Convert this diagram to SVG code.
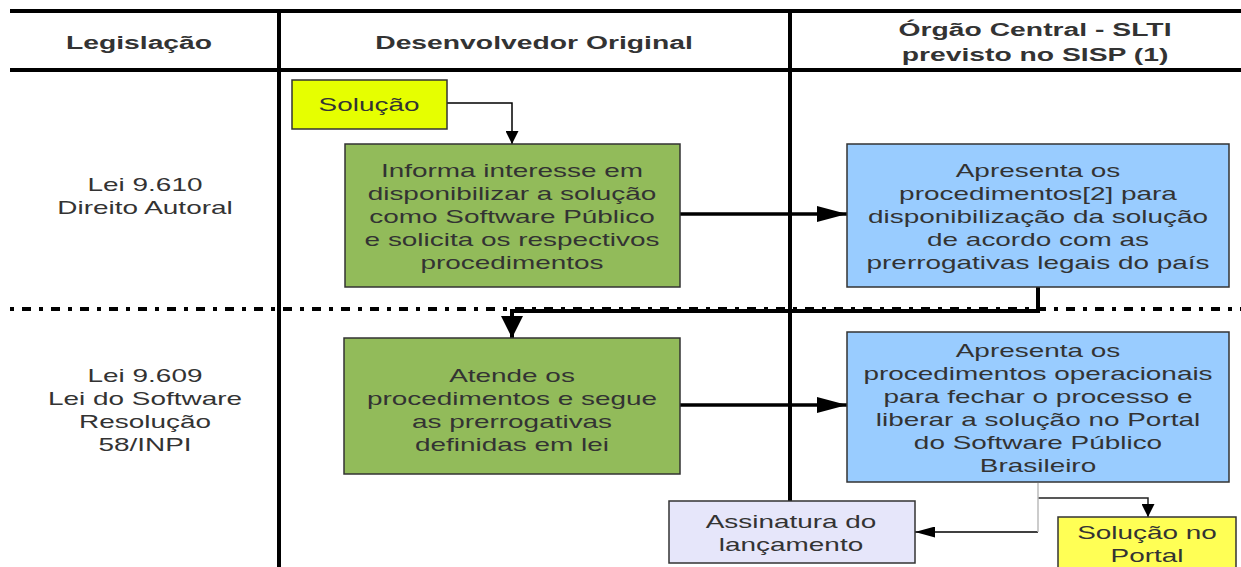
<svg xmlns="http://www.w3.org/2000/svg" width="1241" height="567" viewBox="0 0 1241 567">
<defs>
<style>
text{font-family:"Liberation Sans",Arial,sans-serif;fill:#333;text-anchor:middle}
.h{font-size:19px;font-weight:bold}
.t{font-size:19px}
.grid{stroke:#000;stroke-width:4;fill:none}
.box{stroke:#333;stroke-width:1.5}
.green{fill:#92bb5a}
.blue{fill:#99ccff}
</style>
<marker id="ah" viewBox="0 0 13 13" refX="13" refY="6.5" markerWidth="13" markerHeight="13" markerUnits="userSpaceOnUse" orient="auto"><path d="M0,0 L13,6.5 L0,13 z" fill="#000"/></marker>
<marker id="ahl" viewBox="0 0 20 11" refX="20" refY="5.5" markerWidth="20" markerHeight="11" markerUnits="userSpaceOnUse" orient="auto"><path d="M0,0 L20,5.5 L0,11 z" fill="#000"/></marker>
<marker id="ahb" viewBox="0 0 30 16" refX="30" refY="8" markerWidth="30" markerHeight="16" markerUnits="userSpaceOnUse" orient="auto"><path d="M0,0 L30,8 L0,16 z" fill="#000"/></marker>
<marker id="ahv" viewBox="0 0 22 22" refX="22" refY="11" markerWidth="22" markerHeight="22" markerUnits="userSpaceOnUse" orient="auto"><path d="M0,0 L22,11 L0,22 z" fill="#000"/></marker>
</defs>
<g id="grid">
<line class="grid" x1="10" y1="11" x2="1241" y2="11"/>
<line class="grid" x1="10" y1="70" x2="1241" y2="70"/>
<line class="grid" x1="279" y1="11" x2="279" y2="567"/>
<line class="grid" x1="790" y1="11" x2="790" y2="501"/>
<line x1="10" y1="309" x2="1241" y2="309" stroke="#000" stroke-width="4" stroke-dasharray="4 8 9 8"/>
</g>
<g id="headers">
<g transform="translate(139 0) scale(1.49 1)"><text class="h" x="0" y="49">Legislação</text></g>
<g transform="translate(534 0) scale(1.49 1)"><text class="h" x="0" y="49">Desenvolvedor Original</text></g>
<g transform="translate(1035 0) scale(1.49 1)"><text class="h" x="0" y="36">Órgão Central - SLTI</text><text class="h" x="0" y="61">previsto no SISP (1)</text></g>
</g>
<g id="lei9610" transform="translate(145 0) scale(1.47 1)">
<text class="t" x="0" y="191">Lei 9.610</text>
<text class="t" x="0" y="214">Direito Autoral</text>
</g>
<g id="lei9609" transform="translate(145 0) scale(1.47 1)">
<text class="t" x="0" y="382">Lei 9.609</text>
<text class="t" x="0" y="405">Lei do Software</text>
<text class="t" x="0" y="428">Resolução</text>
<text class="t" x="0" y="451">58/INPI</text>
</g>
<g id="connectors" fill="none" stroke="#000">
<polyline points="447,103 512,103 512,144" stroke-width="1.5" marker-end="url(#ah)"/>
<line x1="680" y1="214" x2="847" y2="214" stroke-width="3.5" marker-end="url(#ahb)"/>
<polyline points="1038,287 1038,311 512,311 512,338" stroke-width="4" marker-end="url(#ahv)"/>
<line x1="680" y1="405" x2="847" y2="405" stroke-width="3.5" marker-end="url(#ahb)"/>
<polyline points="1038,532 915,532" stroke-width="1.5" marker-end="url(#ahl)"/>
<polyline points="1038,498 1148,498 1148,517" stroke="#222" stroke-width="1.5" marker-end="url(#ah)"/>
<line x1="1038" y1="483" x2="1038" y2="532" stroke="#bbb" stroke-width="1.5"/>
</g>
<g id="solucao">
<rect x="292" y="80" width="155" height="49" fill="#e6ff00" class="box"/>
<g transform="translate(369 0) scale(1.47 1)"><text class="t" x="0" y="111">Solução</text></g>
</g>
<g id="informa">
<rect x="345" y="144" width="335" height="143" class="box green"/>
<g transform="translate(512 0) scale(1.47 1)">
<text class="t" x="0" y="177">Informa interesse em</text>
<text class="t" x="0" y="200">disponibilizar a solução</text>
<text class="t" x="0" y="223">como Software Público</text>
<text class="t" x="0" y="246">e solicita os respectivos</text>
<text class="t" x="0" y="269">procedimentos</text>
</g>
</g>
<g id="apresenta1">
<rect x="847" y="144" width="382" height="143" class="box blue"/>
<g transform="translate(1038 0) scale(1.47 1)">
<text class="t" x="0" y="177">Apresenta os</text>
<text class="t" x="0" y="200">procedimentos[2] para</text>
<text class="t" x="0" y="223">disponibilização da solução</text>
<text class="t" x="0" y="246">de acordo com as</text>
<text class="t" x="0" y="269">prerrogativas legais do país</text>
</g>
</g>
<g id="atende">
<rect x="344" y="338" width="336" height="136" class="box green"/>
<g transform="translate(512 0) scale(1.47 1)">
<text class="t" x="0" y="382">Atende os</text>
<text class="t" x="0" y="405">procedimentos e segue</text>
<text class="t" x="0" y="428">as prerrogativas</text>
<text class="t" x="0" y="451">definidas em lei</text>
</g>
</g>
<g id="apresenta2">
<rect x="847" y="332" width="382" height="150" class="box blue"/>
<g transform="translate(1038 0) scale(1.47 1)">
<text class="t" x="0" y="357">Apresenta os</text>
<text class="t" x="0" y="380">procedimentos operacionais</text>
<text class="t" x="0" y="403">para fechar o processo e</text>
<text class="t" x="0" y="426">liberar a solução no Portal</text>
<text class="t" x="0" y="449">do Software Público</text>
<text class="t" x="0" y="472">Brasileiro</text>
</g>
</g>
<g id="assinatura">
<rect x="669" y="501" width="246" height="62" fill="#e6e6fa" class="box"/>
<g transform="translate(791 0) scale(1.47 1)">
<text class="t" x="0" y="528">Assinatura do</text>
<text class="t" x="0" y="551">lançamento</text>
</g>
</g>
<g id="portal">
<rect x="1058" y="517" width="178" height="55" fill="#ffff55" class="box"/>
<g transform="translate(1147 0) scale(1.47 1)">
<text class="t" x="0" y="539">Solução no</text>
<text class="t" x="0" y="562">Portal</text>
</g>
</g>
</svg>
